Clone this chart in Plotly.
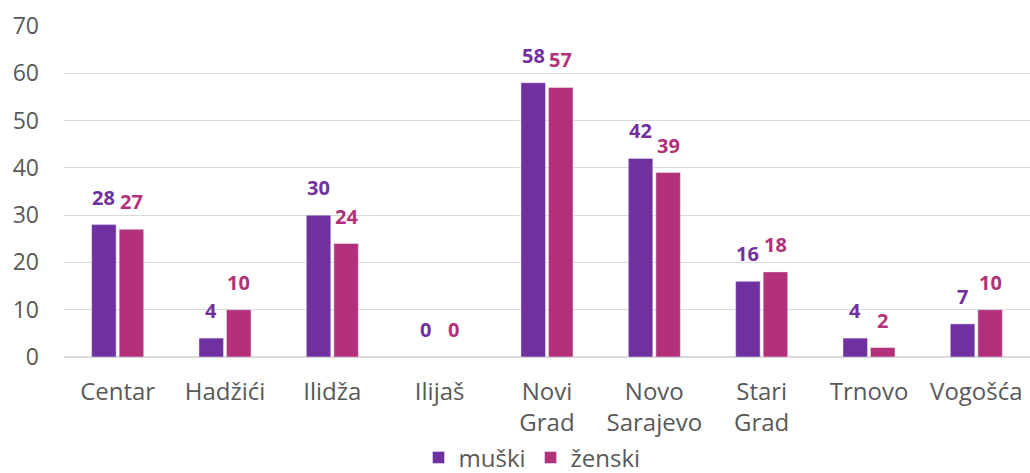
import plotly.graph_objects as go

categories = ["Centar", "Hadžići", "Ilidža", "Ilijaš", "Novi<br>Grad", "Novo<br>Sarajevo", "Stari<br>Grad", "Trnovo", "Vogošća"]
muski = [28, 4, 30, 0, 58, 42, 16, 4, 7]
zenski = [27, 10, 24, 0, 57, 39, 18, 2, 10]
y_ticks = [0, 10, 20, 30, 40, 50, 60, 70]

c_m = "#7030A0"
c_z = "#B3307A"

W, H = 1030, 473
ML, MR, MT, MB = 64, 0, 26, 116
plot_w = W - ML - MR
cat_w = plot_w / len(categories)
bargap = 0.487
half_off = (1 - bargap) * cat_w / 4

fig = go.Figure()
fig.add_trace(go.Bar(name="muški", x=categories, y=muski, marker_color=c_m))
fig.add_trace(go.Bar(name="ženski", x=categories, y=zenski, marker_color=c_z))

annotations = []
for series, col, sgn in ((muski, c_m, -1), (zenski, c_z, 1)):
    for cat, v in zip(categories, series):
        annotations.append(dict(
            x=cat, y=v, xref="x", yref="y", text="<b>%d</b>" % v,
            showarrow=False, xanchor="center", yanchor="bottom",
            xshift=sgn * half_off, yshift=12,
            font=dict(family="Open Sans", size=20, color=col)))

fig.update_layout(
    width=W, height=H,
    margin=dict(l=ML, r=MR, t=MT, b=MB, autoexpand=False),
    paper_bgcolor="white", plot_bgcolor="white",
    barmode="group", bargap=bargap, bargroupgap=0.11,
    font=dict(family="Open Sans", color="#595959", size=24),
    showlegend=True,
    legend=dict(orientation="h", x=0.4845, xanchor="center", y=-0.305, yanchor="middle",
                font=dict(size=24, color="#595959"), itemwidth=30, traceorder="normal"),
    annotations=annotations,
)
fig.update_yaxes(range=[0, 70], tickvals=y_ticks, showgrid=True, gridcolor="#D9D9D9",
                 gridwidth=1, zeroline=True, zerolinecolor="#D9D9D9", ticks="",
                 tickfont=dict(size=23, color="#595959"), ticklabelstandoff=24,
                 automargin=False)
fig.update_xaxes(showline=False, ticks="", tickfont=dict(size=24, color="#595959"),
                 ticklabelstandoff=18, automargin=False)

fig.write_html("out.html", config={"displayModeBar": False},
               post_script="document.body.style.margin='0';document.body.style.overflow='hidden';")
